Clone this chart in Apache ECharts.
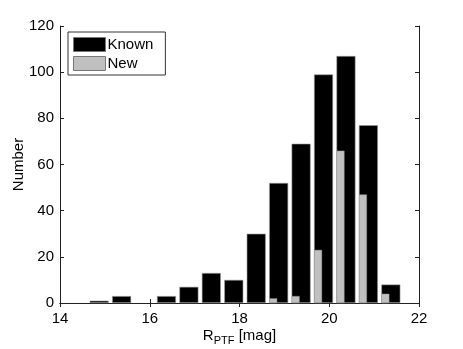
<!DOCTYPE html>
<html>
<head>
<meta charset="utf-8">
<script src="https://cdn.jsdelivr.net/npm/echarts@6/dist/echarts.min.js"></script>
<style>
  html, body { margin: 0; padding: 0; background: #fff; }
  #chart { width: 463px; height: 349px; }
</style>
</head>
<body>
<div id="chart"></div>
<script>
// bin centres, R_PTF [mag]
var binCenters = [14.75, 15.25, 15.75, 16.25, 16.75, 17.25, 17.75, 18.25, 18.75, 19.25, 19.75, 20.25, 20.75, 21.25]
var knownCounts = [1, 3, 0, 3, 7, 13, 10, 30, 52, 69, 99, 107, 77, 8]
var newCounts = [0, 0, 0, 0, 0, 0, 0, 0, 2, 3, 23, 66, 47, 4]
var xTicks = [14, 16, 18, 20, 22]
var yTicks = [0, 20, 40, 60, 80, 100, 120]

var chart = echarts.init(document.getElementById('chart'))
var font = 'Liberation Sans, Arial, sans-serif'

// empty bins are not drawn
function pairs(vals) {
  return binCenters.map(function (x, i) { return vals[i] > 0 ? [x, vals[i]] : [x, '-'] })
}

var frame = { lineStyle: { color: '#222', width: 1 } }
var ticks = { show: true, inside: true, length: 4, lineStyle: { color: '#222' } }

var option = {
  animation: false,
  grid: { left: 60, right: 44, top: 26, bottom: 46, outerBoundsMode: 'none', containLabel: false },
  legend: {
    orient: 'vertical',
    left: 68,
    top: 32,
    padding: [5, 12, 4, 5],
    itemGap: 4,
    itemWidth: 32,
    itemHeight: 14,
    borderColor: '#333',
    borderWidth: 1,
    backgroundColor: '#fff',
    textStyle: { color: '#000', fontSize: 15, fontFamily: font, padding: [0, 0, 0, -3] },
    data: [
      { name: 'Known', icon: 'rect', itemStyle: { color: '#000', borderColor: '#777', borderWidth: 1 } },
      { name: 'New', icon: 'rect', itemStyle: { color: '#c0c0c0', borderColor: '#777', borderWidth: 1 } },
    ],
  },
  xAxis: [
    {
      type: 'value',
      min: xTicks[0],
      max: xTicks[xTicks.length - 1],
      interval: 2,
      axisLine: frame,
      axisTick: ticks,
      splitLine: { show: false },
      axisLabel: { color: '#000', fontSize: 15, fontFamily: font, margin: 8 },
      name: '{a|R}{b|PTF}{a| [mag]}',
      nameLocation: 'middle',
      nameGap: 23,
      nameMoveOverlap: false,
      nameTextStyle: {
        rich: {
          a: { fontSize: 15, fontFamily: font, color: '#000' },
          b: { fontSize: 11, fontFamily: font, color: '#000', padding: [9, 0, 0, 0] },
        },
      },
    },
    {
      type: 'value',
      position: 'top',
      min: xTicks[0],
      max: xTicks[xTicks.length - 1],
      interval: 2,
      axisLine: frame,
      axisTick: ticks,
      axisLabel: { show: false },
      splitLine: { show: false },
    },
  ],
  yAxis: [
    {
      type: 'value',
      min: yTicks[0],
      max: yTicks[yTicks.length - 1],
      interval: 20,
      axisLine: { show: true, lineStyle: { color: '#222', width: 1 } },
      axisTick: ticks,
      splitLine: { show: false },
      axisLabel: { color: '#000', fontSize: 15, fontFamily: font, margin: 6 },
      name: 'Number',
      nameLocation: 'middle',
      nameGap: 34,
      nameMoveOverlap: false,
      nameTextStyle: { color: '#000', fontSize: 15, fontFamily: font },
    },
    {
      type: 'value',
      position: 'right',
      min: yTicks[0],
      max: yTicks[yTicks.length - 1],
      interval: 20,
      axisLine: { show: true, lineStyle: { color: '#222', width: 1 } },
      axisTick: ticks,
      axisLabel: { show: false },
      splitLine: { show: false },
    },
  ],
  series: [
    {
      name: 'Known',
      type: 'bar',
      data: pairs(knownCounts),
      barWidth: 19,
      barGap: '-100%',
      itemStyle: { color: '#000', borderColor: '#999', borderWidth: 0.6 },
    },
    {
      name: 'New',
      type: 'bar',
      data: pairs(newCounts),
      barWidth: 8,
      barGap: '-100%',
      z: 3,
      itemStyle: { color: '#c0c0c0', borderColor: '#999', borderWidth: 0.5 },
    },
  ],
}
chart.setOption(option)
</script>
</body>
</html>
